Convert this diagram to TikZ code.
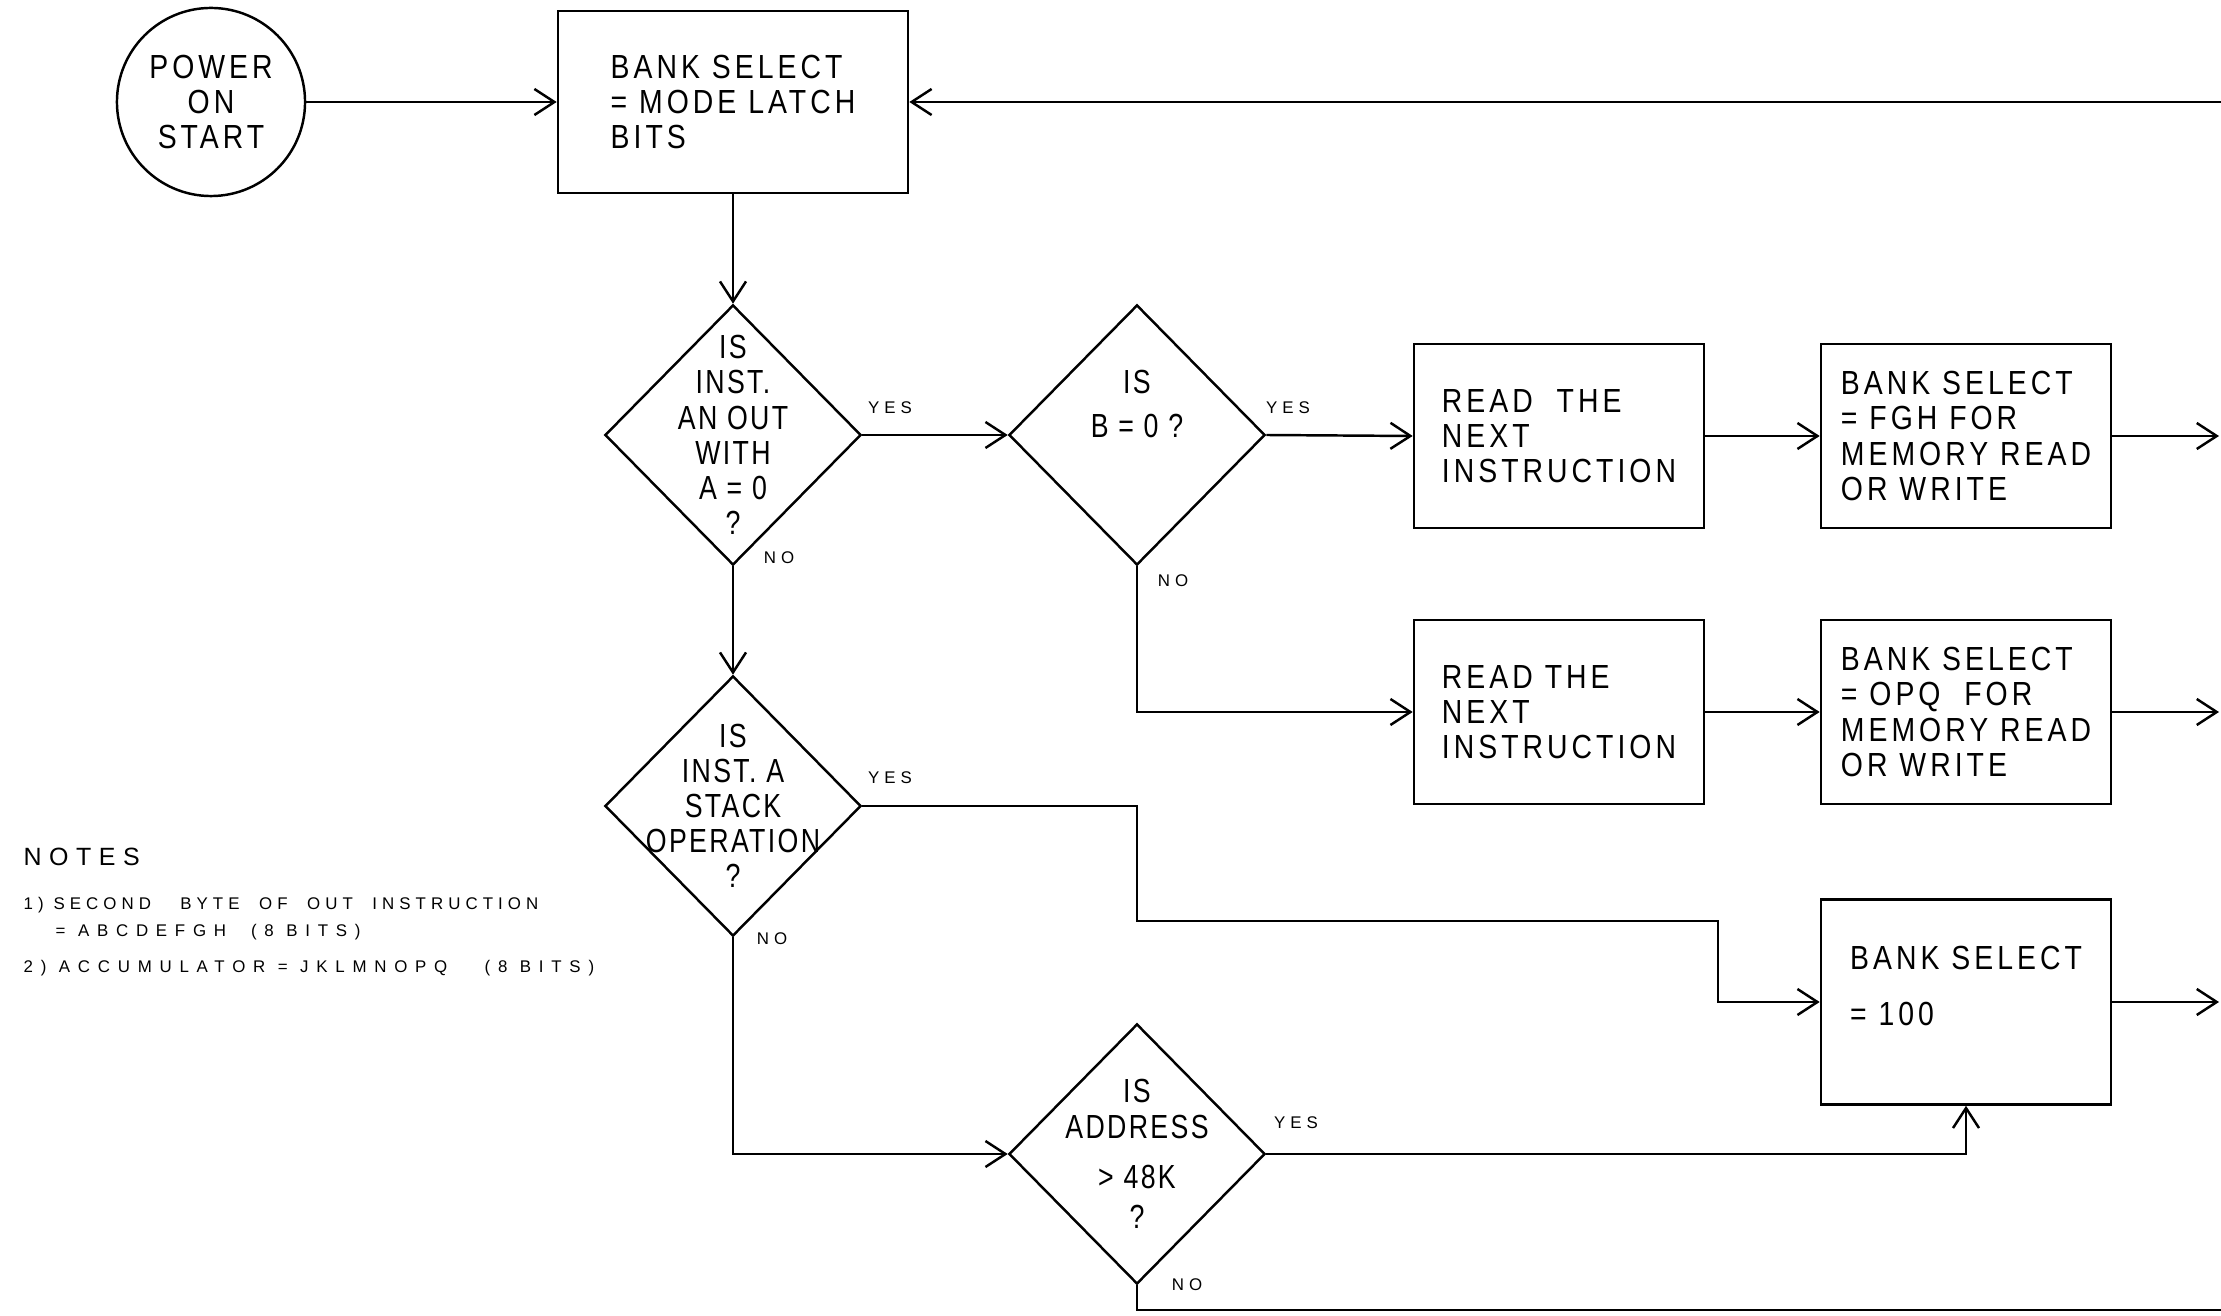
\documentclass[tikz,border=0pt]{standalone}
\usepackage{fontspec}
\usetikzlibrary{shapes.geometric,arrows.meta}
\newfontfamily\lettering[FakeStretch=0.85,LetterSpace=12]{Liberation Sans}
\newfontfamily\asking[FakeStretch=0.8,LetterSpace=7]{Liberation Sans}
\newfontfamily\smallprint[LetterSpace=30]{Liberation Sans}
\newfontfamily\wideprint[LetterSpace=46]{Liberation Sans}
\tikzset{
  terminal/.style={circle,draw,line width=0.7pt,minimum size=1.88cm,inner sep=0pt,
    align=center,font=\lettering\fontsize{9.5}{10}\selectfont},
  process/.style={rectangle,draw,line width=0.7pt,minimum width=2.9cm,minimum height=1.84cm,
    inner sep=0pt,align=left,font=\lettering\fontsize{9.5}{10}\selectfont},
  decision/.style={diamond,draw,line width=0.7pt,minimum width=2.56cm,minimum height=2.6cm,
    inner sep=0pt},
  qtext/.style={align=center,inner sep=0pt,font=\asking\fontsize{9.5}{10}\selectfont},
  branch/.style={inner sep=0pt,font=\smallprint\fontsize{4.8}{5}\selectfont},
  note/.style={anchor=base west,inner sep=0pt,font=\smallprint\fontsize{4.8}{6}\selectfont},
  flow/.style={draw,line width=0.7pt,-{Straight Barb[length=2mm,width=2.6mm]}},
  wire/.style={draw,line width=0.7pt}
}
\begin{document}
\begin{tikzpicture}[x=0.01cm,y=-0.01cm]
  \fill[white] (0,0) rectangle (2221,1316);
  \useasboundingbox (0,0) rectangle (2221,1316);
  % start and mode latch
  \node[terminal] (start) at (211,102) {POWER\\ON\\START};
  \node[process,minimum width=3.5cm,minimum height=1.82cm] (mode) at (733,102)
    {BANK SELECT\\= MODE LATCH\\BITS};
  % decisions
  \node[decision,label={[qtext]center:{IS\\INST.\\AN OUT\\WITH\\A = 0\\?}}] (outq) at (733,435) {};
  \node[decision,label={[qtext,yshift=0.31cm]center:{IS\\[0.08cm]B = 0 ?}}] (bzero) at (1137,435) {};
  \node[decision,label={[qtext]center:{IS\\INST. A\\STACK\\OPERATION\\?}}] (stackq) at (733,806) {};
  \node[decision,label={[qtext]center:{IS\\ADDRESS\\[0.15cm]> 48K\\[0.05cm]?}}] (addrq) at (1137,1154) {};
  % process boxes
  \node[process] (readA) at (1559,436) {READ\ \ THE\\NEXT\\INSTRUCTION};
  \node[process] (fgh) at (1966,436) {BANK SELECT\\= FGH FOR\\MEMORY READ\\OR WRITE};
  \node[process] (readB) at (1559,712) {READ THE\\NEXT\\INSTRUCTION};
  \node[process] (opq) at (1966,712) {BANK SELECT\\= OPQ\ \ FOR\\MEMORY READ\\OR WRITE};
  \node[process,minimum height=2.05cm] (hund) at (1966,1002) {BANK SELECT\\[0.2cm]= 100\\[-0.03cm]};
  % branch labels
  \node[branch] (yesA) at (890,408) {YES};
  \node[branch] (noA) at (779,558) {NO};
  \node[branch] (yesB) at (1288,408) {YES};
  \node[branch] (noB) at (1173,581) {NO};
  \node[branch] (yesC) at (890,778) {YES};
  \node[branch] (noC) at (772,939) {NO};
  \node[branch] (yesD) at (1296,1123) {YES};
  \node[branch] (noD) at (1187,1285) {NO};
  % notes
  \node[note,font=\smallprint\fontsize{7.1}{8}\selectfont] (notes) at (23,865) {NOTES};
  \node[note] (noteA) at (23,909) {1)\ SECOND\ \ \ BYTE\ \ OF\ \ OUT\ \ INSTRUCTION};
  \node[note,font=\wideprint\fontsize{4.8}{6}\selectfont] (noteB) at (55,936) {= ABCDEFGH\ \ (8 BITS)};
  \node[note,font=\wideprint\fontsize{4.8}{6}\selectfont] (noteC) at (23,972) {2)\ ACCUMULATOR = JKLMNOPQ\ \ \ (8 BITS)};
  % edge of sheet
  \coordinate (loopin) at (2221,102);
  \coordinate (outA) at (2219,436);
  \coordinate (outB) at (2219,712);
  \coordinate (outC) at (2219,1002);
  \coordinate (exitno) at (2221,1310);
  \coordinate (jogA) at (1137,921);
  \coordinate (jogB) at (1718,921);
  % connectors
  \draw[flow] (start) -- (mode);
  \draw[flow] (loopin) -- (mode.east);
  \draw[flow] (mode) -- (outq.north);
  \draw[flow] (outq.east) -- (bzero.west);
  \draw[flow] (bzero.east) -- (readA.west);
  \draw[flow] (readA) -- (fgh);
  \draw[flow] (fgh.east) -- (outA);
  \draw[flow] (bzero.south) |- (readB.west);
  \draw[flow] (readB) -- (opq);
  \draw[flow] (opq.east) -- (outB);
  \draw[flow] (outq.south) -- (stackq.north);
  \draw[flow] (stackq.east) -| (jogA) -- (jogB) |- (hund.west);
  \draw[flow] (hund.east) -- (outC);
  \draw[flow] (stackq.south) |- (addrq.west);
  \draw[flow] (addrq.east) -| (hund.south);
  \draw[wire] (addrq.south) |- (exitno);
\end{tikzpicture}
\end{document}
